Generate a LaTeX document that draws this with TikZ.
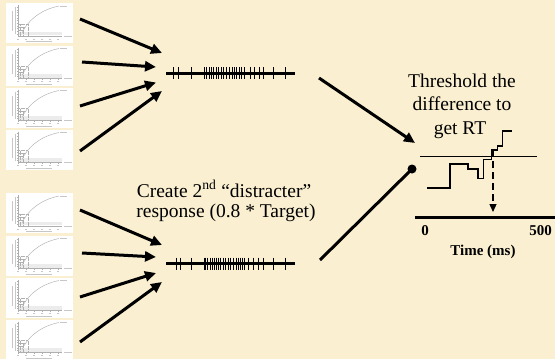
\documentclass[tikz,border=0pt]{standalone}
\usepackage{fontspec}
\setmainfont{Liberation Serif}
\usetikzlibrary{arrows.meta}
\definecolor{parch}{RGB}{250,239,208}
\definecolor{thumbgray}{RGB}{175,175,175}
\begin{document}
\begin{tikzpicture}[x=1pt,y=-1pt,
  bigarrow/.style={line width=3pt,-{Triangle[length=11pt,width=10pt]}},
  plainline/.style={line width=3pt},
  spikeline/.style={line width=3pt},
  spiketick/.style={line width=0.9pt},
  label/.style={font=\fontsize{19.5}{20}\selectfont,inner sep=0pt,anchor=base},
  axislabel/.style={font=\fontsize{15}{15}\selectfont\bfseries,inner sep=0pt,anchor=base},
  thumb/.pic={
    \fill[white] (0,0) rectangle (67,40);
    \fill[gray!15] (12,28.5) rectangle (56,32);
    \draw[thumbgray,line width=0.35pt] (12,2) -- (12,33) -- (56,33);
    \foreach \yy in {4,6.7,...,32} \draw[thumbgray,line width=0.25pt] (10.8,\yy) -- (12,\yy);
    \foreach \xx in {12,20,28,36,44,52} \draw[thumbgray,line width=0.25pt] (\xx,33) -- (\xx,34.2);
    \draw[thumbgray,line width=0.45pt] (16,30) .. controls (21,19) and (33,7) .. (53,3);
    \draw[thumbgray,densely dotted,line width=0.25pt]
       (12,21) -- (22,21) (12,24) -- (19,24) (12,27) -- (17,27)
       (14,21) -- (14,33) (17,24) -- (17,33) (22,21) -- (22,33);
    \draw[thumbgray!70,line width=0.4pt] (6,8) -- (6,28);
    \draw[thumbgray!70,line width=0.4pt] (9,4) -- (9,31);
    \draw[thumbgray!70,line width=0.4pt] (54,3) -- (61,3);
    \draw[thumbgray!70,line width=0.4pt] (58,33) -- (66,33);
    \foreach \xx in {12,20,28,36,44,52} \draw[thumbgray!70,line width=0.4pt] (\xx-1.2,36) -- (\xx+1.2,36);
    \draw[thumbgray!70,line width=0.4pt] (20,38.5) -- (46,38.5);
  }]
\fill[parch] (0,0) rectangle (555,359);
\useasboundingbox (0,0) rectangle (555,359);

% thumbnails
\foreach \yy [count=\i] in {3,45.5,87.5,129.5} \pic (ta\i) at (6,\yy) {thumb};
\foreach \yy [count=\i] in {193,235.5,277.5,319.5} \pic (tb\i) at (6,\yy) {thumb};

% arrow endpoints (top group)
\coordinate (as1) at (80,19);   \coordinate (ae1) at (162,53);
\coordinate (as2) at (82,62);   \coordinate (ae2) at (156,67);
\coordinate (as3) at (80,106);  \coordinate (ae3) at (156,82.5);
\coordinate (as4) at (80,151);  \coordinate (ae4) at (162,91);
% arrow endpoints (bottom group)
\coordinate (bs1) at (80,210);  \coordinate (be1) at (162,245);
\coordinate (bs2) at (82,253);  \coordinate (be2) at (156,257);
\coordinate (bs3) at (80,297);  \coordinate (be3) at (156,273);
\coordinate (bs4) at (80,342);  \coordinate (be4) at (162,282);
\foreach \i in {1,2,3,4} {
  \draw[bigarrow] (as\i) -- (ae\i);
  \draw[bigarrow] (bs\i) -- (be\i);
}

% spike trains
\coordinate (trainAL) at (166,73);  \coordinate (trainAR) at (295,73);
\coordinate (trainBL) at (166,263.5); \coordinate (trainBR) at (295,263.5);
\draw[spikeline] (trainAL) -- (trainAR);
\draw[spikeline] (trainBL) -- (trainBR);
\foreach \t in {173,178.5,191,204.5,206.5,209.3,211.3,213.3,216,218.5,221,223.5,226.7,229.5,232,234,236.5,239,241.5,244.5,250,254.5,259,263.5,273.3,285.7}
  \draw[spiketick] (\t,67) -- (\t,79);
\foreach \t in {176.7,180,191.7,204,205.7,207.7,210,212.3,214.3,216,218.3,220.7,223.3,225.7,228.3,230.7,233.3,236,238.3,240.3,242.3,244.3,248.3,253.3,258.3,263.3,273.3,285}
  \draw[spiketick] (\t,257.5) -- (\t,269.5);

% text
\node[label] (c1) at (224,197.5) {Create 2\textsuperscript{nd} “distracter”};
\node[label] (c2) at (226,217.5) {response (0.8 * Target)};
\node[label] (t1) at (462,87) {Threshold the};
\node[label] (t2) at (462,110) {difference to};
\node[label] (t3) at (460,134) {get RT};

% connectors to the decision panel
\coordinate (tipA) at (415,143);
\coordinate (startA) at (319,78);
\coordinate (startB) at (320,260);
\node[circle,fill=black,inner sep=0pt,minimum size=9pt] (dot) at (412,169) {};
\draw[bigarrow] (startA) -- (tipA);
\draw[plainline] (startB) -- (dot.center);

% threshold and trace
\coordinate (thL) at (420,156); \coordinate (thR) at (537,156);
\draw[line width=0.9pt] (thL) -- (thR);
\draw[line width=1.5pt] (427,188) -- (450,188) -- (450,164) -- (468,164) -- (468,169)
  -- (478,169) -- (478,178.5) -- (483.3,178.5) -- (483.3,159.3) -- (491.7,159.3)
  -- (491.7,150) -- (497.3,150) -- (497.3,146) -- (502.7,146) -- (502.7,131) -- (511.7,131);
\coordinate (dashTop) at (493,150);
\coordinate (dashTip) at (493,212);
\draw[line width=1.3pt,dash pattern=on 7pt off 4pt,-{Triangle[length=8pt,width=7pt]}] (dashTop) -- (dashTip);

% time axis
\coordinate (axL) at (415,217.5); \coordinate (axR) at (555,217.5);
\draw[line width=3.5pt] (axL) -- (axR);
\node[axislabel] (zero) at (425,235) {0};
\node[axislabel] (fivehundred) at (540.5,235) {500};
\node[axislabel] (timelab) at (483,255) {Time (ms)};
\end{tikzpicture}
\end{document}
